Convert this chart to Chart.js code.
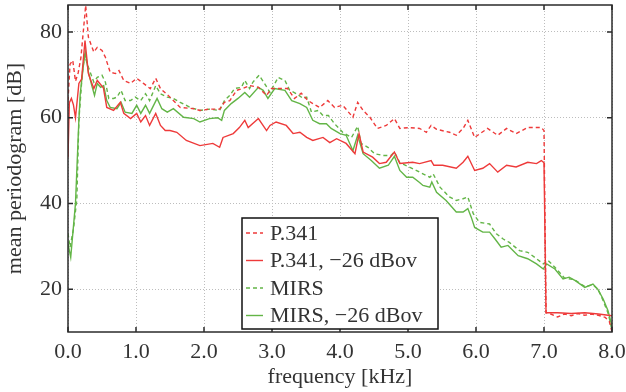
<!DOCTYPE html>
<html>
<head>
<meta charset="utf-8">
<script src="https://cdn.jsdelivr.net/npm/chart.js@4"></script>
<style>
  html, body { margin: 0; padding: 0; background: #fff; }
</style>
</head>
<body>
<canvas id="psd" width="626" height="392"></canvas>
<script>
// mean periodogram of the test signals, frequency in kHz, level in dB
const p341Freq = [0.00, 0.03, 0.07, 0.11, 0.15, 0.19, 0.26, 0.30, 0.34, 0.38, 0.43, 0.50, 0.55, 0.62, 0.70, 0.75, 0.82, 0.92, 1.01, 1.11, 1.21, 1.29, 1.36, 1.50, 1.65, 1.85, 1.94, 2.08, 2.23, 2.30, 2.38, 2.48, 2.57, 2.67, 2.80, 2.92, 2.99, 3.11, 3.23, 3.33, 3.43, 3.53, 3.60, 3.70, 3.82, 3.92, 4.04, 4.19, 4.26, 4.34, 4.44, 4.55, 4.68, 4.80, 4.88, 5.02, 5.17, 5.27, 5.34, 5.42, 5.61, 5.71, 5.81, 5.88, 5.98, 6.17, 6.32, 6.45, 6.59, 6.76, 6.96, 7.00, 7.03, 7.10, 7.20, 7.30, 7.40, 7.50, 7.60, 7.70, 7.80, 7.90, 7.96, 8.00];
const p341Db = [64.0, 72.5, 73.4, 68.5, 70.5, 74.0, 86.2, 78.8, 77.0, 75.3, 76.4, 75.7, 74.1, 70.6, 70.3, 71.0, 68.7, 68.0, 69.2, 68.0, 66.8, 69.2, 66.8, 64.8, 62.4, 62.1, 61.7, 62.0, 62.0, 63.6, 64.0, 66.4, 66.8, 67.5, 67.1, 65.2, 66.8, 66.8, 66.8, 64.5, 65.7, 64.0, 63.3, 62.4, 64.0, 62.4, 62.9, 60.1, 63.6, 61.7, 60.1, 57.5, 58.2, 59.8, 57.5, 57.7, 57.5, 56.6, 58.2, 57.3, 56.6, 55.9, 57.5, 59.4, 55.4, 57.5, 55.9, 57.5, 56.3, 57.7, 57.7, 57.0, 14.5, 14.2, 13.5, 14.2, 13.8, 14.3, 13.9, 14.2, 13.9, 13.4, 12.5, 10.0];

const p341LowFreq = [0.00, 0.02, 0.05, 0.08, 0.11, 0.16, 0.20, 0.25, 0.30, 0.34, 0.38, 0.43, 0.52, 0.57, 0.67, 0.77, 0.82, 0.92, 1.01, 1.07, 1.14, 1.20, 1.29, 1.36, 1.43, 1.50, 1.60, 1.74, 1.94, 2.13, 2.23, 2.28, 2.43, 2.52, 2.60, 2.65, 2.80, 2.92, 2.97, 3.06, 3.21, 3.31, 3.41, 3.51, 3.60, 3.75, 3.85, 3.95, 4.09, 4.22, 4.28, 4.34, 4.48, 4.58, 4.68, 4.80, 4.88, 5.07, 5.17, 5.34, 5.38, 5.51, 5.71, 5.81, 5.88, 5.98, 6.10, 6.20, 6.32, 6.45, 6.59, 6.76, 6.89, 6.96, 7.00, 7.03, 7.20, 7.40, 7.60, 7.80, 8.00];
const p341LowDb = [50.7, 63.5, 64.5, 63.0, 60.0, 68.0, 69.0, 78.0, 70.3, 68.5, 66.8, 68.7, 67.0, 62.4, 61.7, 63.6, 61.0, 59.8, 61.0, 59.0, 60.5, 58.2, 61.0, 58.2, 57.0, 57.0, 56.6, 54.7, 53.5, 54.0, 53.1, 55.4, 56.3, 57.7, 59.4, 57.7, 59.8, 57.0, 58.2, 59.0, 58.2, 56.3, 56.6, 55.4, 54.7, 55.4, 54.2, 55.1, 54.0, 51.6, 56.3, 52.0, 50.8, 49.3, 49.6, 52.0, 49.3, 49.6, 49.3, 50.0, 48.9, 48.9, 48.2, 49.6, 51.0, 47.7, 48.2, 49.3, 47.3, 48.9, 48.5, 49.6, 49.3, 50.0, 49.5, 14.5, 14.5, 14.3, 14.5, 14.2, 13.8];

const mirsFreq = [0.00, 0.03, 0.08, 0.13, 0.16, 0.21, 0.245, 0.30, 0.38, 0.43, 0.50, 0.55, 0.60, 0.67, 0.72, 0.78, 0.84, 0.92, 0.99, 1.07, 1.14, 1.20, 1.29, 1.36, 1.46, 1.55, 1.65, 1.80, 1.94, 2.08, 2.23, 2.30, 2.38, 2.45, 2.55, 2.60, 2.67, 2.72, 2.81, 2.89, 2.97, 3.09, 3.19, 3.26, 3.36, 3.46, 3.51, 3.58, 3.68, 3.75, 3.83, 3.92, 4.04, 4.17, 4.26, 4.31, 4.41, 4.51, 4.63, 4.75, 4.80, 4.88, 5.02, 5.17, 5.32, 5.37, 5.47, 5.61, 5.71, 5.81, 5.88, 5.96, 6.05, 6.20, 6.30, 6.40, 6.49, 6.64, 6.76, 6.89, 6.99, 7.06, 7.16, 7.30, 7.45, 7.60, 7.72, 7.80, 7.87, 7.94, 7.98, 8.00];
const mirsDb = [33.0, 29.8, 34.0, 41.0, 59.4, 70.3, 74.5, 71.8, 68.3, 69.4, 69.9, 68.3, 64.5, 64.5, 64.8, 66.4, 64.0, 64.0, 64.8, 64.0, 65.6, 64.0, 67.5, 65.6, 64.8, 64.5, 63.6, 62.4, 61.7, 62.0, 61.7, 64.0, 65.2, 66.8, 67.1, 68.7, 66.8, 68.3, 69.9, 68.0, 65.9, 69.4, 68.7, 66.4, 65.6, 64.5, 64.8, 61.3, 61.7, 60.5, 60.5, 58.6, 56.6, 55.4, 58.0, 54.0, 53.1, 51.6, 51.2, 51.2, 52.0, 49.5, 48.5, 47.3, 46.1, 46.9, 43.8, 41.5, 40.7, 41.1, 41.5, 37.6, 35.6, 35.2, 32.9, 31.7, 30.9, 29.0, 28.6, 27.1, 25.9, 26.7, 25.1, 22.6, 22.2, 20.6, 21.0, 19.8, 17.3, 14.5, 12.0, 10.0];

const mirsLowFreq = [0.00, 0.04, 0.11, 0.16, 0.18, 0.23, 0.255, 0.28, 0.30, 0.35, 0.39, 0.43, 0.48, 0.525, 0.57, 0.62, 0.72, 0.78, 0.84, 0.94, 1.01, 1.07, 1.14, 1.20, 1.31, 1.38, 1.46, 1.55, 1.70, 1.85, 1.94, 2.08, 2.20, 2.26, 2.30, 2.40, 2.50, 2.60, 2.67, 2.80, 2.87, 2.94, 3.04, 3.19, 3.29, 3.41, 3.51, 3.60, 3.70, 3.80, 3.87, 4.00, 4.09, 4.19, 4.26, 4.34, 4.46, 4.58, 4.71, 4.80, 4.88, 4.98, 5.07, 5.17, 5.22, 5.32, 5.35, 5.42, 5.56, 5.71, 5.81, 5.88, 5.93, 5.98, 6.10, 6.20, 6.28, 6.37, 6.47, 6.62, 6.76, 6.89, 6.99, 7.04, 7.16, 7.28, 7.37, 7.46, 7.60, 7.72, 7.79, 7.87, 7.94, 7.98, 8.00];
const mirsLowDb = [30.6, 27.4, 40.0, 59.4, 65.6, 72.7, 75.3, 72.7, 70.6, 67.5, 65.2, 68.0, 67.1, 67.5, 64.0, 62.4, 62.1, 63.6, 61.3, 61.0, 62.9, 61.0, 62.9, 61.0, 64.5, 62.1, 61.3, 62.1, 60.1, 59.8, 59.0, 59.8, 60.0, 59.4, 61.7, 63.3, 64.5, 65.9, 64.8, 67.1, 66.4, 64.5, 66.8, 66.4, 64.0, 63.3, 62.4, 59.4, 58.6, 58.6, 57.5, 56.3, 55.9, 52.3, 55.9, 51.6, 50.0, 48.2, 48.9, 51.0, 47.7, 46.1, 46.1, 44.9, 44.2, 43.8, 45.0, 42.6, 40.7, 38.0, 38.0, 38.8, 36.8, 34.4, 33.3, 33.3, 31.7, 29.8, 30.2, 27.8, 27.1, 25.9, 24.7, 25.9, 24.7, 22.4, 22.8, 22.0, 20.4, 21.2, 20.0, 17.7, 15.0, 12.6, 11.0];

const xTicks = [0, 1, 2, 3, 4, 5, 6, 7, 8];
const yTicks = [20, 40, 60, 80];

const RED = '#ee3a3a';
const GREEN = '#63b547';
const SERIF = '"Liberation Serif", "Times New Roman", serif';

const pairs = (xs, ys) => xs.map((x, i) => ({ x: x, y: ys[i] }));

function series(label, xs, ys, color, dashed) {
  return {
    label: label,
    data: pairs(xs, ys),
    borderColor: color,
    backgroundColor: color,
    borderWidth: 1.4,
    borderDash: dashed ? [4, 3] : [],
    pointRadius: 0,
    tension: 0,
    fill: false
  };
}

// frame around the plot with inward tick marks
const framePlugin = {
  id: 'frame',
  afterDatasetsDraw(chart) {
    const { ctx, chartArea: a, scales: { x, y } } = chart;
    ctx.save();
    ctx.strokeStyle = '#2b2b2b';
    ctx.lineWidth = 1.5;
    ctx.beginPath();
    xTicks.forEach(v => {
      const px = x.getPixelForValue(v);
      ctx.moveTo(px, a.bottom); ctx.lineTo(px, a.bottom - 5);
      ctx.moveTo(px, a.top); ctx.lineTo(px, a.top + 5);
    });
    yTicks.forEach(v => {
      const py = y.getPixelForValue(v);
      ctx.moveTo(a.left, py); ctx.lineTo(a.left + 5, py);
      ctx.moveTo(a.right, py); ctx.lineTo(a.right - 5, py);
    });
    ctx.stroke();
    ctx.strokeRect(a.left, a.top, a.right - a.left, a.bottom - a.top);
    ctx.restore();
  }
};

// boxed legend in the lower middle of the plot
const boxLegend = {
  id: 'boxLegend',
  afterDraw(chart) {
    const ctx = chart.ctx;
    const bx = 242, by = 218, bw = 196, bh = 111;
    ctx.save();
    ctx.fillStyle = '#fff';
    ctx.fillRect(bx, by, bw, bh);
    ctx.strokeStyle = '#111';
    ctx.lineWidth = 1.5;
    ctx.strokeRect(bx, by, bw, bh);
    ctx.font = '22px ' + SERIF;
    ctx.textBaseline = 'middle';
    ctx.fillStyle = '#333';
    chart.data.datasets.forEach((ds, i) => {
      const cy = by + 15 + i * 27.5;
      ctx.beginPath();
      ctx.strokeStyle = ds.borderColor;
      ctx.lineWidth = 1.4;
      ctx.setLineDash(ds.borderDash);
      ctx.moveTo(bx + 4, cy);
      ctx.lineTo(bx + 21, cy);
      ctx.stroke();
      ctx.setLineDash([]);
      ctx.fillText(ds.label, bx + 28, cy + 1);
    });
    ctx.restore();
  }
};

new Chart(document.getElementById('psd'), {
  type: 'line',
  data: {
    datasets: [
      series('P.341', p341Freq, p341Db, RED, true),
      series('P.341, \u221226 dBov', p341LowFreq, p341LowDb, RED, false),
      series('MIRS', mirsFreq, mirsDb, GREEN, true),
      series('MIRS, \u221226 dBov', mirsLowFreq, mirsLowDb, GREEN, false)
    ]
  },
  options: {
    responsive: false,
    animation: false,
    layout: { padding: { top: 5, right: 14, left: 0, bottom: 0 } },
    plugins: { legend: { display: false }, tooltip: { enabled: false } },
    scales: {
      x: {
        type: 'linear',
        min: 0,
        max: 8,
        afterBuildTicks: s => { s.ticks = xTicks.map(v => ({ value: v })); },
        afterFit: s => {
          s.height = 60;
          s.paddingLeft = 0;
          s.paddingRight = 0;
        },
        ticks: {
          padding: 7,
          color: '#333',
          font: { family: SERIF, size: 22 },
          callback: v => Number(v).toFixed(1)
        },
        grid: { color: '#bdbdbd', drawTicks: false },
        border: { display: false, dash: [1, 2] },
        title: {
          display: true,
          text: 'frequency [kHz]',
          color: '#333',
          font: { family: SERIF, size: 22 },
          padding: { top: 0, bottom: 2 }
        }
      },
      y: {
        min: 10,
        max: 86.3,
        afterBuildTicks: s => { s.ticks = yTicks.map(v => ({ value: v })); },
        afterFit: s => {
          s.width = 68;
          s.paddingTop = 0;
          s.paddingBottom = 0;
        },
        ticks: {
          padding: 6,
          color: '#333',
          font: { family: SERIF, size: 22 }
        },
        grid: { color: '#bdbdbd', drawTicks: false },
        border: { display: false, dash: [1, 2] },
        title: {
          display: true,
          text: 'mean periodogram [dB]',
          color: '#333',
          font: { family: SERIF, size: 22 },
          padding: { top: 2, bottom: 0 }
        }
      }
    }
  },
  plugins: [framePlugin, boxLegend]
});
</script>
</body>
</html>
